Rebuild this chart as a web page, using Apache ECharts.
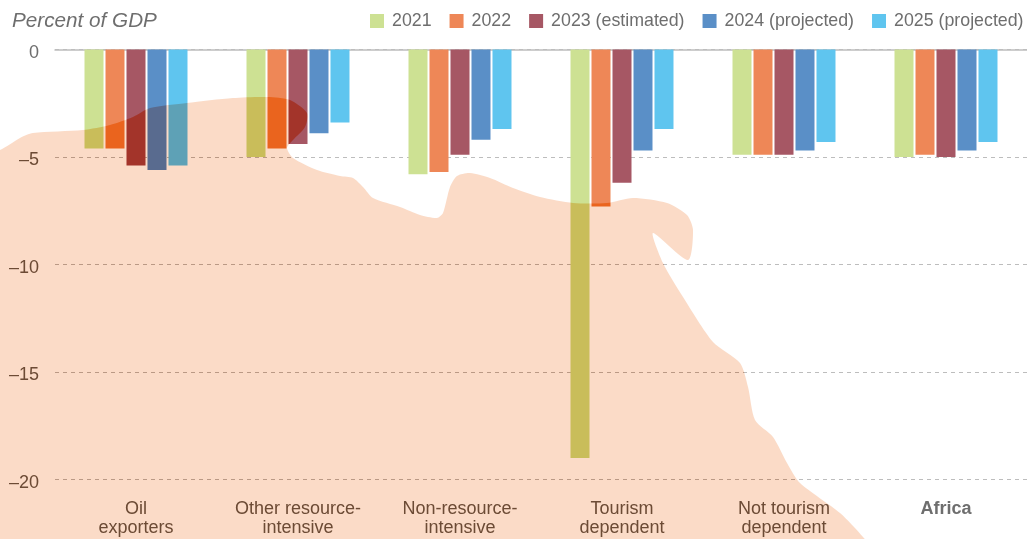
<!DOCTYPE html>
<html>
<head>
<meta charset="utf-8">
<style>html,body{margin:0;padding:0;background:#fff}#c{width:1027px;height:539px}</style>
<script src="https://cdn.jsdelivr.net/npm/echarts@6/dist/echarts.min.js"></script>
</head>
<body>
<div id="c"></div>
<script>
const categories = ['Oil\nexporters','Other resource-\nintensive','Non-resource-\nintensive','Tourism\ndependent','Not tourism\ndependent','Africa'];
const seriesNames = ['2021','2022','2023 (estimated)','2024 (projected)','2025 (projected)'];
const colors = ['#cde193','#ee8757','#a65764','#5a8fc7','#5fc5ef'];
const v2021 = [-4.6,-5.0,-5.8,-19.0,-4.9,-5.0];
const v2022 = [-4.6,-4.6,-5.7,-7.3,-4.9,-4.9];
const v2023 = [-5.4,-4.4,-4.9,-6.2,-4.9,-5.0];
const v2024 = [-5.6,-3.9,-4.2,-4.7,-4.7,-4.7];
const v2025 = [-5.4,-3.4,-3.7,-3.7,-4.3,-4.3];
const seriesValues = [v2021,v2022,v2023,v2024,v2025];
// decorative silhouette of the continent behind the chart
const mapOutline = [[-30,560],[-30,158],[0,150],[20,138],[33,133],[83,130],[110,125],[133,117],[150,108],[187,103],[233,98],[267,97],[290,100],[307,113],[305,127],[293,140],[287,148],[293,158],[317,170],[340,176],[353,178],[363,187],[373,198],[400,207],[420,215],[437,218],[443,213],[450,187],[457,176],[470,173],[490,178],[513,188],[540,197],[573,203],[607,203],[633,198],[667,203],[687,215],[693,230],[688,260],[653,233],[663,263],[683,297],[713,342],[740,363],[748,387],[755,420],[773,437],[787,463],[800,483],[840,513],[863,537],[880,560]];
const font = '"Liberation Sans", Arial, sans-serif';
const textColor = '#6e6e6e';
const chart = echarts.init(document.getElementById('c'));
chart.setOption({
  backgroundColor:'#fff',
  animation:false,
  title:{text:'Percent of GDP',left:7,top:6,textStyle:{fontFamily:font,fontStyle:'italic',fontWeight:'normal',fontSize:20.7,color:textColor}},
  legend:{left:370,top:7,padding:[5,0,5,0],itemWidth:14,itemHeight:14,itemGap:18,icon:'rect',
    textStyle:{fontFamily:font,fontSize:17.8,color:textColor,padding:[0,0,0,3]},data:seriesNames},
  grid:{left:55,right:0,top:49.5,bottom:59.5},
  xAxis:[{type:'category',position:'bottom',data:categories.map(c=>c==='Africa'?{value:c,textStyle:{fontWeight:'bold'}}:c),
      axisLine:{show:false,onZero:false},axisTick:{show:false},
      axisLabel:{interval:0,margin:20,fontFamily:font,fontSize:18,lineHeight:19,color:textColor}},
    {type:'category',position:'top',data:categories,axisLine:{show:true,onZero:false,lineStyle:{color:'#bdbdbd',width:1.5}},axisTick:{show:false},axisLabel:{show:false}}],
  yAxis:{type:'value',min:-20,max:0,interval:5,
    axisLine:{show:false},axisTick:{show:false},
    axisLabel:{margin:16,fontFamily:font,fontSize:18,color:textColor,verticalAlign:'top',lineHeight:7,formatter:v=>String(v).replace('-','\u2013')},
    splitLine:{lineStyle:{color:'#bdbdbd',type:[4,4],width:1}}},
  series:seriesNames.map((n,i)=>({name:n,type:'bar',xAxisIndex:0,barWidth:19,barGap:'10.5%',
    itemStyle:{color:colors[i]},data:seriesValues[i]})),
  graphic:[
    {type:'polygon',silent:true,z:100,shape:{points:mapOutline,smooth:0.25},style:{fill:'#ffdcc5',blend:'color-burn'}},
    {type:'polygon',silent:true,z:101,shape:{points:mapOutline,smooth:0.25},style:{fill:'#fbdbc7',blend:'multiply'}}
  ]
});
</script>
</body>
</html>
